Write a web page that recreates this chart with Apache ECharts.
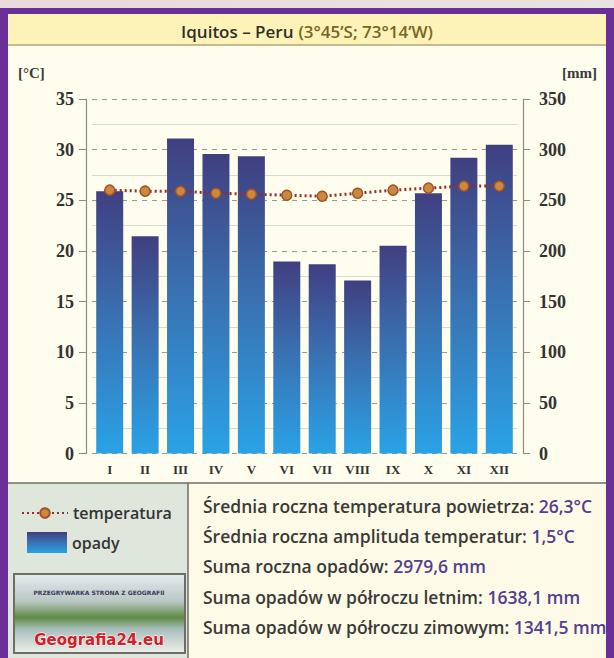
<!DOCTYPE html>
<html>
<head>
<meta charset="utf-8">
<script src="https://cdn.jsdelivr.net/npm/echarts@6/dist/echarts.min.js"></script>
<style>
html,body{margin:0;padding:0;background:#e9e0e0;}
#chart{width:614px;height:658px;}
</style>
</head>
<body>
<div id="chart"></div>
<script>
// ---- data ----
const months = ['I','II','III','IV','V','VI','VII','VIII','IX','X','XI','XII'];
const temperature = [26.0, 25.9, 25.9, 25.7, 25.6, 25.5, 25.4, 25.7, 26.0, 26.2, 26.4, 26.4];
const precipitation = [258.8, 214.4, 311.0, 295.8, 293.4, 189.6, 186.8, 170.7, 205.2, 257.0, 292.0, 304.9];
const titleName = 'Iquitos – Peru';
const titleCoords = '(3°45\u2019S; 73°14\u2019W)';
const tempAxis = {min: 0, max: 35, interval: 5, name: '[°C]'};
const precAxis = {min: 0, max: 350, interval: 50, name: '[mm]'};
const seriesNames = ['temperatura', 'opady'];
const statLabels = [
  'Średnia roczna temperatura powietrza: ',
  'Średnia roczna amplituda temperatur: ',
  'Suma roczna opadów: ',
  'Suma opadów w półroczu letnim: ',
  'Suma opadów w półroczu zimowym: '
];
const statValues = ['26,3°C', '1,5°C', '2979,6 mm', '1638,1 mm', '1341,5 mm'];

// ---- chart ----
const chart = echarts.init(document.getElementById('chart'), null, {renderer: 'svg'});
const serif = '"Liberation Serif", "DejaVu Serif", serif';
const sans = '"Open Sans", "Noto Sans", sans-serif';
const axisGray = '#8c8c84';

const graphics = [
  // page background band + purple frame
  {type:'rect', z:-10, shape:{x:0,y:0,width:614,height:658}, style:{fill:'#6b2f98'}},
  {type:'rect', z:-10, shape:{x:0,y:0,width:614,height:8}, style:{fill:new echarts.graphic.LinearGradient(0,0,1,0,[{offset:0,color:'#ead8dc'},{offset:1,color:'#e8e4e0'}])}},
  // chart panel
  {type:'rect', z:-9, shape:{x:8,y:14,width:598,height:644}, style:{fill:'#fffdee'}},
  // title bar
  {type:'rect', z:-8, shape:{x:8,y:14,width:598,height:31}, style:{fill:'#fdf3b8'}},
  {type:'line', z:-7, shape:{x1:8,y1:45,x2:606,y2:45}, style:{stroke:'#b5a57a',lineWidth:1.5}},
  // bottom panels
  {type:'rect', z:-8, shape:{x:8,y:483,width:180,height:175}, style:{fill:'#dfe6dc'}},
  {type:'rect', z:-8, shape:{x:188,y:483,width:418,height:175}, style:{fill:'#fdfbe8'}},
  {type:'line', z:-7, shape:{x1:8,y1:483,x2:606,y2:483}, style:{stroke:'#6e6e66',lineWidth:1.5}},
  {type:'line', z:-7, shape:{x1:188,y1:483,x2:188,y2:658}, style:{stroke:'#6e6e66',lineWidth:1.5}},
  // logo box
  {type:'rect', z:-6, shape:{x:14,y:574,width:171,height:79}, style:{fill:new echarts.graphic.LinearGradient(0,0,0,1,[{offset:0,color:'#e6ecef'},{offset:0.35,color:'#b9c6c2'},{offset:0.55,color:'#5f8a45'},{offset:0.7,color:'#a9bfbd'},{offset:1,color:'#eef0ea'}]), stroke:'#6e6e66', lineWidth:2}},
  {type:'text', z:-5, style:{x:99, y:592, text:'PRZEGRYWARKA STRONA Z GEOGRAFII', fill:'#3a3a5a', font:'bold 6px "DejaVu Sans"', align:'center', verticalAlign:'middle'}},
  {type:'text', z:-5, style:{x:99, y:640, text:'Geografia24.eu', fill:'#d0202a', font:'bold 15px "DejaVu Sans"', align:'center', verticalAlign:'middle', stroke:'#fff', lineWidth:1}},
  // axis names
  {type:'text', style:{x:18, y:73, text:tempAxis.name, fill:'#3a3a3a', font:'bold 15px ' + serif, verticalAlign:'middle'}},
  {type:'text', style:{x:597, y:73, text:precAxis.name, fill:'#3a3a3a', font:'bold 15px ' + serif, align:'right', verticalAlign:'middle'}}
];
statLabels.forEach(function (lab, i) {
  graphics.push({type:'text', style:{
    x:203, y:506 + i * 30.2, verticalAlign:'middle',
    text:'{l|' + lab + '}{v|' + statValues[i] + '}',
    rich:{
      l:{fill:'#3a3a36', font:'600 17.5px ' + sans},
      v:{fill:'#54408c', font:'600 17.5px ' + sans}
    }
  }});
});

const option = {
  animation: false,
  backgroundColor: 'transparent',
  title: {
    text: '{a|' + titleName + '} {b|' + titleCoords + '}',
    left: 'center', top: 17,
    textStyle: {rich: {
      a: {color:'#2f2f2a', fontFamily: sans, fontWeight: 600, fontSize: 17},
      b: {color:'#76671c', fontFamily: sans, fontWeight: 600, fontSize: 17}
    }}
  },
  legend: [
    {data:[seriesNames[0]], orient:'vertical', left:16, top:500, itemWidth:46, itemHeight:12, itemGap:6,
     textStyle:{color:'#333', fontFamily: sans, fontWeight:600, fontSize:16}},
    {data:[{name:seriesNames[1], icon:'rect'}], orient:'vertical', left:22, top:527, itemWidth:40, itemHeight:21,
     textStyle:{color:'#333', fontFamily: sans, fontWeight:600, fontSize:16}}
  ],
  graphic: graphics,
  grid: {left: 92, right: 97, top: 99, bottom: 204.5},
  xAxis: {
    type: 'category', data: months,
    axisLine: {show: false}, axisTick: {show: false},
    axisLabel: {color:'#333', fontFamily: serif, fontWeight:'bold', fontSize:13, margin:9}
  },
  yAxis: [
    {type:'value', position:'left', offset:6, min:tempAxis.min, max:tempAxis.max, interval:tempAxis.interval,
     axisLine:{show:true, lineStyle:{color:axisGray, width:1.2}},
     axisTick:{show:true, length:7, lineStyle:{color:axisGray}},
     axisLabel:{color:'#333', fontFamily: serif, fontWeight:'bold', fontSize:18, margin:12},
     splitLine:{show:true, lineStyle:{color:'#9a9a92', type:[5,5], width:1}},
     minorTick:{show:false, splitNumber:2},
     minorSplitLine:{show:true, lineStyle:{color:'#d9d9cf', width:1}}
    },
    {type:'value', position:'right', offset:6, min:precAxis.min, max:precAxis.max, interval:precAxis.interval,
     axisLine:{show:true, lineStyle:{color:axisGray, width:1.2}},
     axisTick:{show:true, length:7, lineStyle:{color:axisGray}},
     axisLabel:{color:'#333', fontFamily: serif, fontWeight:'bold', fontSize:18, margin:16},
     splitLine:{show:false}
    }
  ],
  series: [
    {name: seriesNames[1], type:'bar', yAxisIndex:1, data: precipitation, barWidth: 27, z: 2,
     itemStyle:{color: new echarts.graphic.LinearGradient(0,0,0,1,[
       {offset:0, color:'#403f80'}, {offset:0.45, color:'#3a6eae'}, {offset:1, color:'#2aa2e6'}])}
    },
    {name: seriesNames[0], type:'line', yAxisIndex:0, data: temperature, z: 3,
     lineStyle:{color:'#9a2b2b', width:3, type:[2,3]},
     symbol:'circle', symbolSize:10,
     itemStyle:{color:'#c98a3e', borderColor:'#a34f2a', borderWidth:1.5}
    }
  ]
};
chart.setOption(option);
</script>
</body>
</html>
